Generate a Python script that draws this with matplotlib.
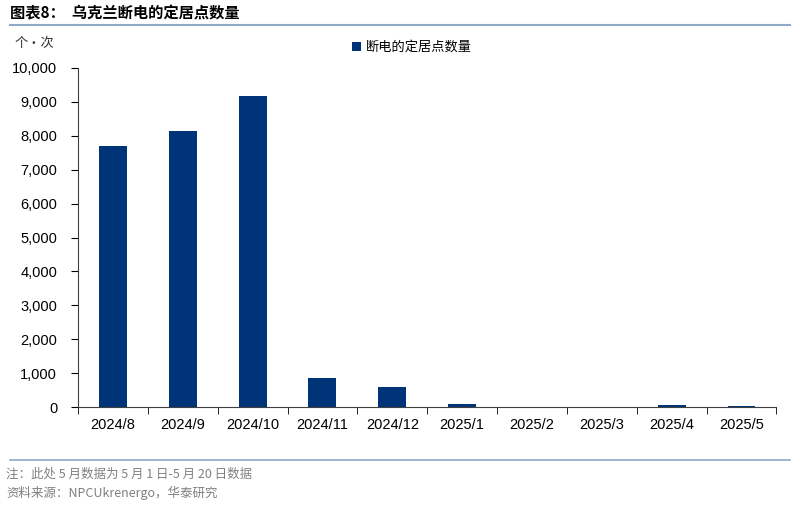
import matplotlib
matplotlib.use("Agg")
from matplotlib import pyplot as plt
from matplotlib.lines import Line2D
import numpy as np

plt.rcParams['font.family'] = ['Noto Sans CJK SC', 'DejaVu Sans']

months = ['2024/8', '2024/9', '2024/10', '2024/11', '2024/12',
          '2025/1', '2025/2', '2025/3', '2025/4', '2025/5']
counts = [7710, 8140, 9180, 860, 600, 90, 3, 10, 65, 35]
series_name = '断电的定居点数量'
bar_color = '#003478'

fig = plt.figure(figsize=(8, 5.07), dpi=100)
ax = fig.add_axes([0.0975, 0.197, 0.873, 0.669])

x = np.arange(len(months))
ax.bar(x, counts, width=0.4, color=bar_color, label=series_name)

ax.set_xlim(-0.5, len(months) - 0.5)
ax.set_ylim(0, 10000)
ax.set_yticks(np.arange(0, 10001, 1000))
ax.set_yticklabels([f'{v:,}' for v in range(0, 10001, 1000)],
                   family=['Liberation Sans', 'DejaVu Sans'], fontsize=10.5)
ax.set_xticks(x)
ax.set_xticklabels(months, family=['Liberation Sans', 'DejaVu Sans'], fontsize=10.5)
ax.tick_params(axis='x', length=0, pad=8)
ax.set_xticks(np.arange(-0.5, len(months), 1), minor=True)
ax.tick_params(axis='x', which='minor', length=5, direction='out')
ax.tick_params(axis='y', length=5, direction='out', pad=10)
for s in ['top', 'right']:
    ax.spines[s].set_visible(False)
ax.spines['left'].set_color('#404040')
ax.spines['bottom'].set_color('#404040')

ax.legend(loc='upper center', bbox_to_anchor=(0.478, 1.115), frameon=False,
          fontsize=9.5, handlelength=0.7, handleheight=0.7, handletextpad=0.4)

fig.text(0.012, 0.974, '图表8：  乌克兰断电的定居点数量', fontsize=11,
         fontweight='bold', va='center')
fig.add_artist(Line2D([0.012, 0.988], [0.950, 0.950], color='#8fa9c8', lw=1.5))
fig.text(0.018, 0.915, '个·次', fontsize=9.5, color='#333333', va='center')

fig.add_artist(Line2D([0.012, 0.988], [0.093, 0.093], color='#8fa9c8', lw=1.2))
fig.text(0.008, 0.065, '注：此处 5 月数据为 5 月 1 日-5 月 20 日数据', fontsize=9,
         color='#808080', va='center')
fig.text(0.008, 0.027, '资料来源：NPCUkrenergo，华泰研究', fontsize=9,
         color='#808080', va='center')

fig.savefig('out.png', dpi=100)
